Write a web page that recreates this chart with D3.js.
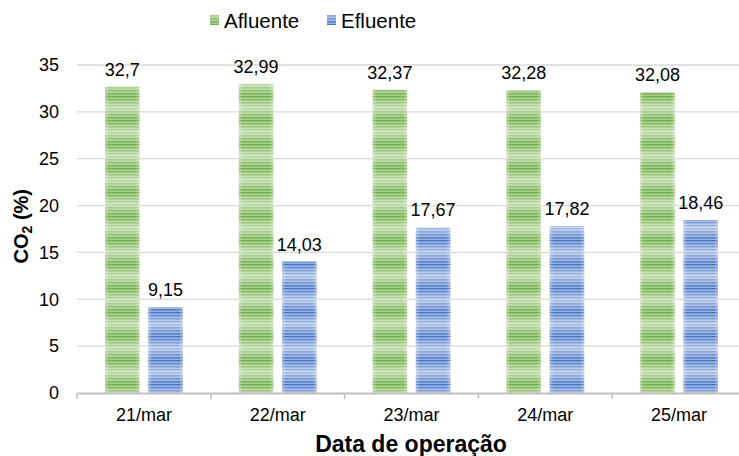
<!DOCTYPE html>
<html>
<head>
<meta charset="utf-8">
<script src="https://cdn.jsdelivr.net/npm/d3@7"></script>
<style>
  body { margin: 0; background: #fff; }
  svg { display: block; font-family: "Liberation Sans", Arial, sans-serif; }
</style>
</head>
<body>
<div id="chart"></div>
<script>
// dados
const categories = ["21/mar", "22/mar", "23/mar", "24/mar", "25/mar"];
const afluente = [32.7, 32.99, 32.37, 32.28, 32.08];
const efluente = [9.15, 14.03, 17.67, 17.82, 18.46];
const seriesNames = ["Afluente", "Efluente"];
const yTicks = [0, 5, 10, 15, 20, 25, 30, 35];

const width = 739, height = 456;
const margin = { left: 77, top: 65, right: -7, bottom: 63 };
const fmt = v => String(v).replace(".", ",");
const fs = 18; // fonte dos rótulos

const svg = d3.select("#chart").append("svg")
  .attr("width", width).attr("height", height);

// padrões listrados para as barras
const defs = svg.append("defs");
const palettes = [
  { id: "pat-af", base: "#70ad47", light: "#b4d89c" },
  { id: "pat-ef", base: "#4472c4", light: "#a9bfe6" }
];
const glow = defs.append("linearGradient").attr("id", "glow")
  .attr("x1", 0).attr("y1", 0).attr("x2", 0).attr("y2", 1);
glow.append("stop").attr("offset", "0%").attr("stop-color", "#fff").attr("stop-opacity", 0);
glow.append("stop").attr("offset", "50%").attr("stop-color", "#fff").attr("stop-opacity", 0.55);
glow.append("stop").attr("offset", "100%").attr("stop-color", "#fff").attr("stop-opacity", 0);
const hglow = defs.append("linearGradient").attr("id", "hglow")
  .attr("x1", 0).attr("y1", 0).attr("x2", 1).attr("y2", 0);
hglow.append("stop").attr("offset", "0%").attr("stop-color", "#fff").attr("stop-opacity", 0.3);
hglow.append("stop").attr("offset", "12%").attr("stop-color", "#fff").attr("stop-opacity", 0);
hglow.append("stop").attr("offset", "88%").attr("stop-color", "#fff").attr("stop-opacity", 0);
hglow.append("stop").attr("offset", "100%").attr("stop-color", "#fff").attr("stop-opacity", 0.3);

palettes.forEach(p => {
  const pat = defs.append("pattern").attr("id", p.id)
    .attr("patternUnits", "userSpaceOnUse").attr("width", 40).attr("height", 24);
  pat.append("rect").attr("width", 40).attr("height", 24).attr("fill", p.base);
  for (let y = 1.5; y < 24; y += 3) {
    pat.append("rect").attr("x", 0).attr("y", y).attr("width", 40).attr("height", 1.5)
      .attr("fill", p.light).attr("opacity", 0.75);
  }
  pat.append("rect").attr("width", 40).attr("height", 24).attr("fill", "url(#glow)");
});

// escalas
const x = d3.scaleBand().domain(categories)
  .range([margin.left, width - margin.right]).paddingInner(0).paddingOuter(0);
const y = d3.scaleLinear().domain([0, 35]).range([height - margin.bottom, margin.top]);
const x1 = d3.scaleBand().domain(seriesNames)
  .range([28, x.bandwidth() - 28]).paddingInner(0.2);

// grade
svg.append("g").selectAll("line").data(yTicks.filter(t => t > 0)).join("line")
  .attr("x1", margin.left).attr("x2", width)
  .attr("y1", d => y(d)).attr("y2", d => y(d))
  .attr("stroke", "#d9d9d9").attr("stroke-width", 1.3);

// eixo y (somente rótulos)
const yAxis = svg.append("g").attr("transform", `translate(${margin.left},0)`)
  .call(d3.axisLeft(y).tickValues(yTicks).tickSize(0).tickPadding(18));
yAxis.select(".domain").remove();
yAxis.selectAll("text").attr("font-size", fs).attr("fill", "#000")
  .attr("font-family", "Liberation Sans, Arial, sans-serif");

// barras
const data = categories.map((c, i) => ({ cat: c, values: [afluente[i], efluente[i]] }));
const groups = svg.append("g").selectAll("g").data(data).join("g")
  .attr("transform", d => `translate(${x(d.cat)},0)`);
const bars = groups.selectAll("g.bar")
  .data(d => d.values.map((v, k) => ({ s: seriesNames[k], k, v })))
  .join("g").attr("class", "bar");
bars.append("rect")
  .attr("x", d => x1(d.s)).attr("width", x1.bandwidth())
  .attr("y", d => y(d.v)).attr("height", d => y(0) - y(d.v))
  .attr("fill", d => `url(#${palettes[d.k].id})`);
bars.append("rect")
  .attr("x", d => x1(d.s)).attr("width", x1.bandwidth())
  .attr("y", d => y(d.v)).attr("height", d => y(0) - y(d.v))
  .attr("fill", "url(#hglow)");
bars.append("text")
  .attr("x", d => x1(d.s) + x1.bandwidth() / 2)
  .attr("y", d => y(d.v) - 11)
  .attr("text-anchor", "middle").attr("font-size", fs).attr("fill", "#000")
  .text(d => fmt(d.v));

// eixo x
const xAxis = svg.append("g").attr("transform", `translate(0,${y(0)})`)
  .call(d3.axisBottom(x).tickSize(0).tickPadding(15));
xAxis.select(".domain").attr("stroke", "#bfbfbf").attr("stroke-width", 2.2);
xAxis.selectAll("text").attr("font-size", fs).attr("fill", "#000")
  .attr("font-family", "Liberation Sans, Arial, sans-serif");
const bounds = categories.map(c => x(c)).concat([x(categories[4]) + x.bandwidth()]);
xAxis.append("g").selectAll("line").data(bounds).join("line")
  .attr("x1", d => d).attr("x2", d => d).attr("y1", 0).attr("y2", 6)
  .attr("stroke", "#bfbfbf").attr("stroke-width", 1.5);

// títulos
svg.append("text")
  .attr("x", 411).attr("y", 452)
  .attr("text-anchor", "middle").attr("font-size", 23).attr("font-weight", "bold")
  .text("Data de operação");
const yt = svg.append("text")
  .attr("transform", `translate(28,${y(17.8)}) rotate(-90)`)
  .attr("text-anchor", "middle").attr("font-size", 20).attr("font-weight", "bold");
yt.append("tspan").text("CO");
yt.append("tspan").attr("font-size", 14).attr("dy", 4).text("2");
yt.append("tspan").attr("dy", -4).text(" (%)");

// legenda
const leg = svg.append("g").attr("transform", "translate(210,0)");
seriesNames.forEach((s, k) => {
  const g = leg.append("g").attr("transform", `translate(${k * 117},0)`);
  g.append("rect").attr("x", 0).attr("y", 15).attr("width", 9).attr("height", 10)
    .attr("fill", `url(#${palettes[k].id})`);
  g.append("text").attr("x", 14).attr("y", 28).attr("font-size", 20.5).text(s);
});
</script>
</body>
</html>
